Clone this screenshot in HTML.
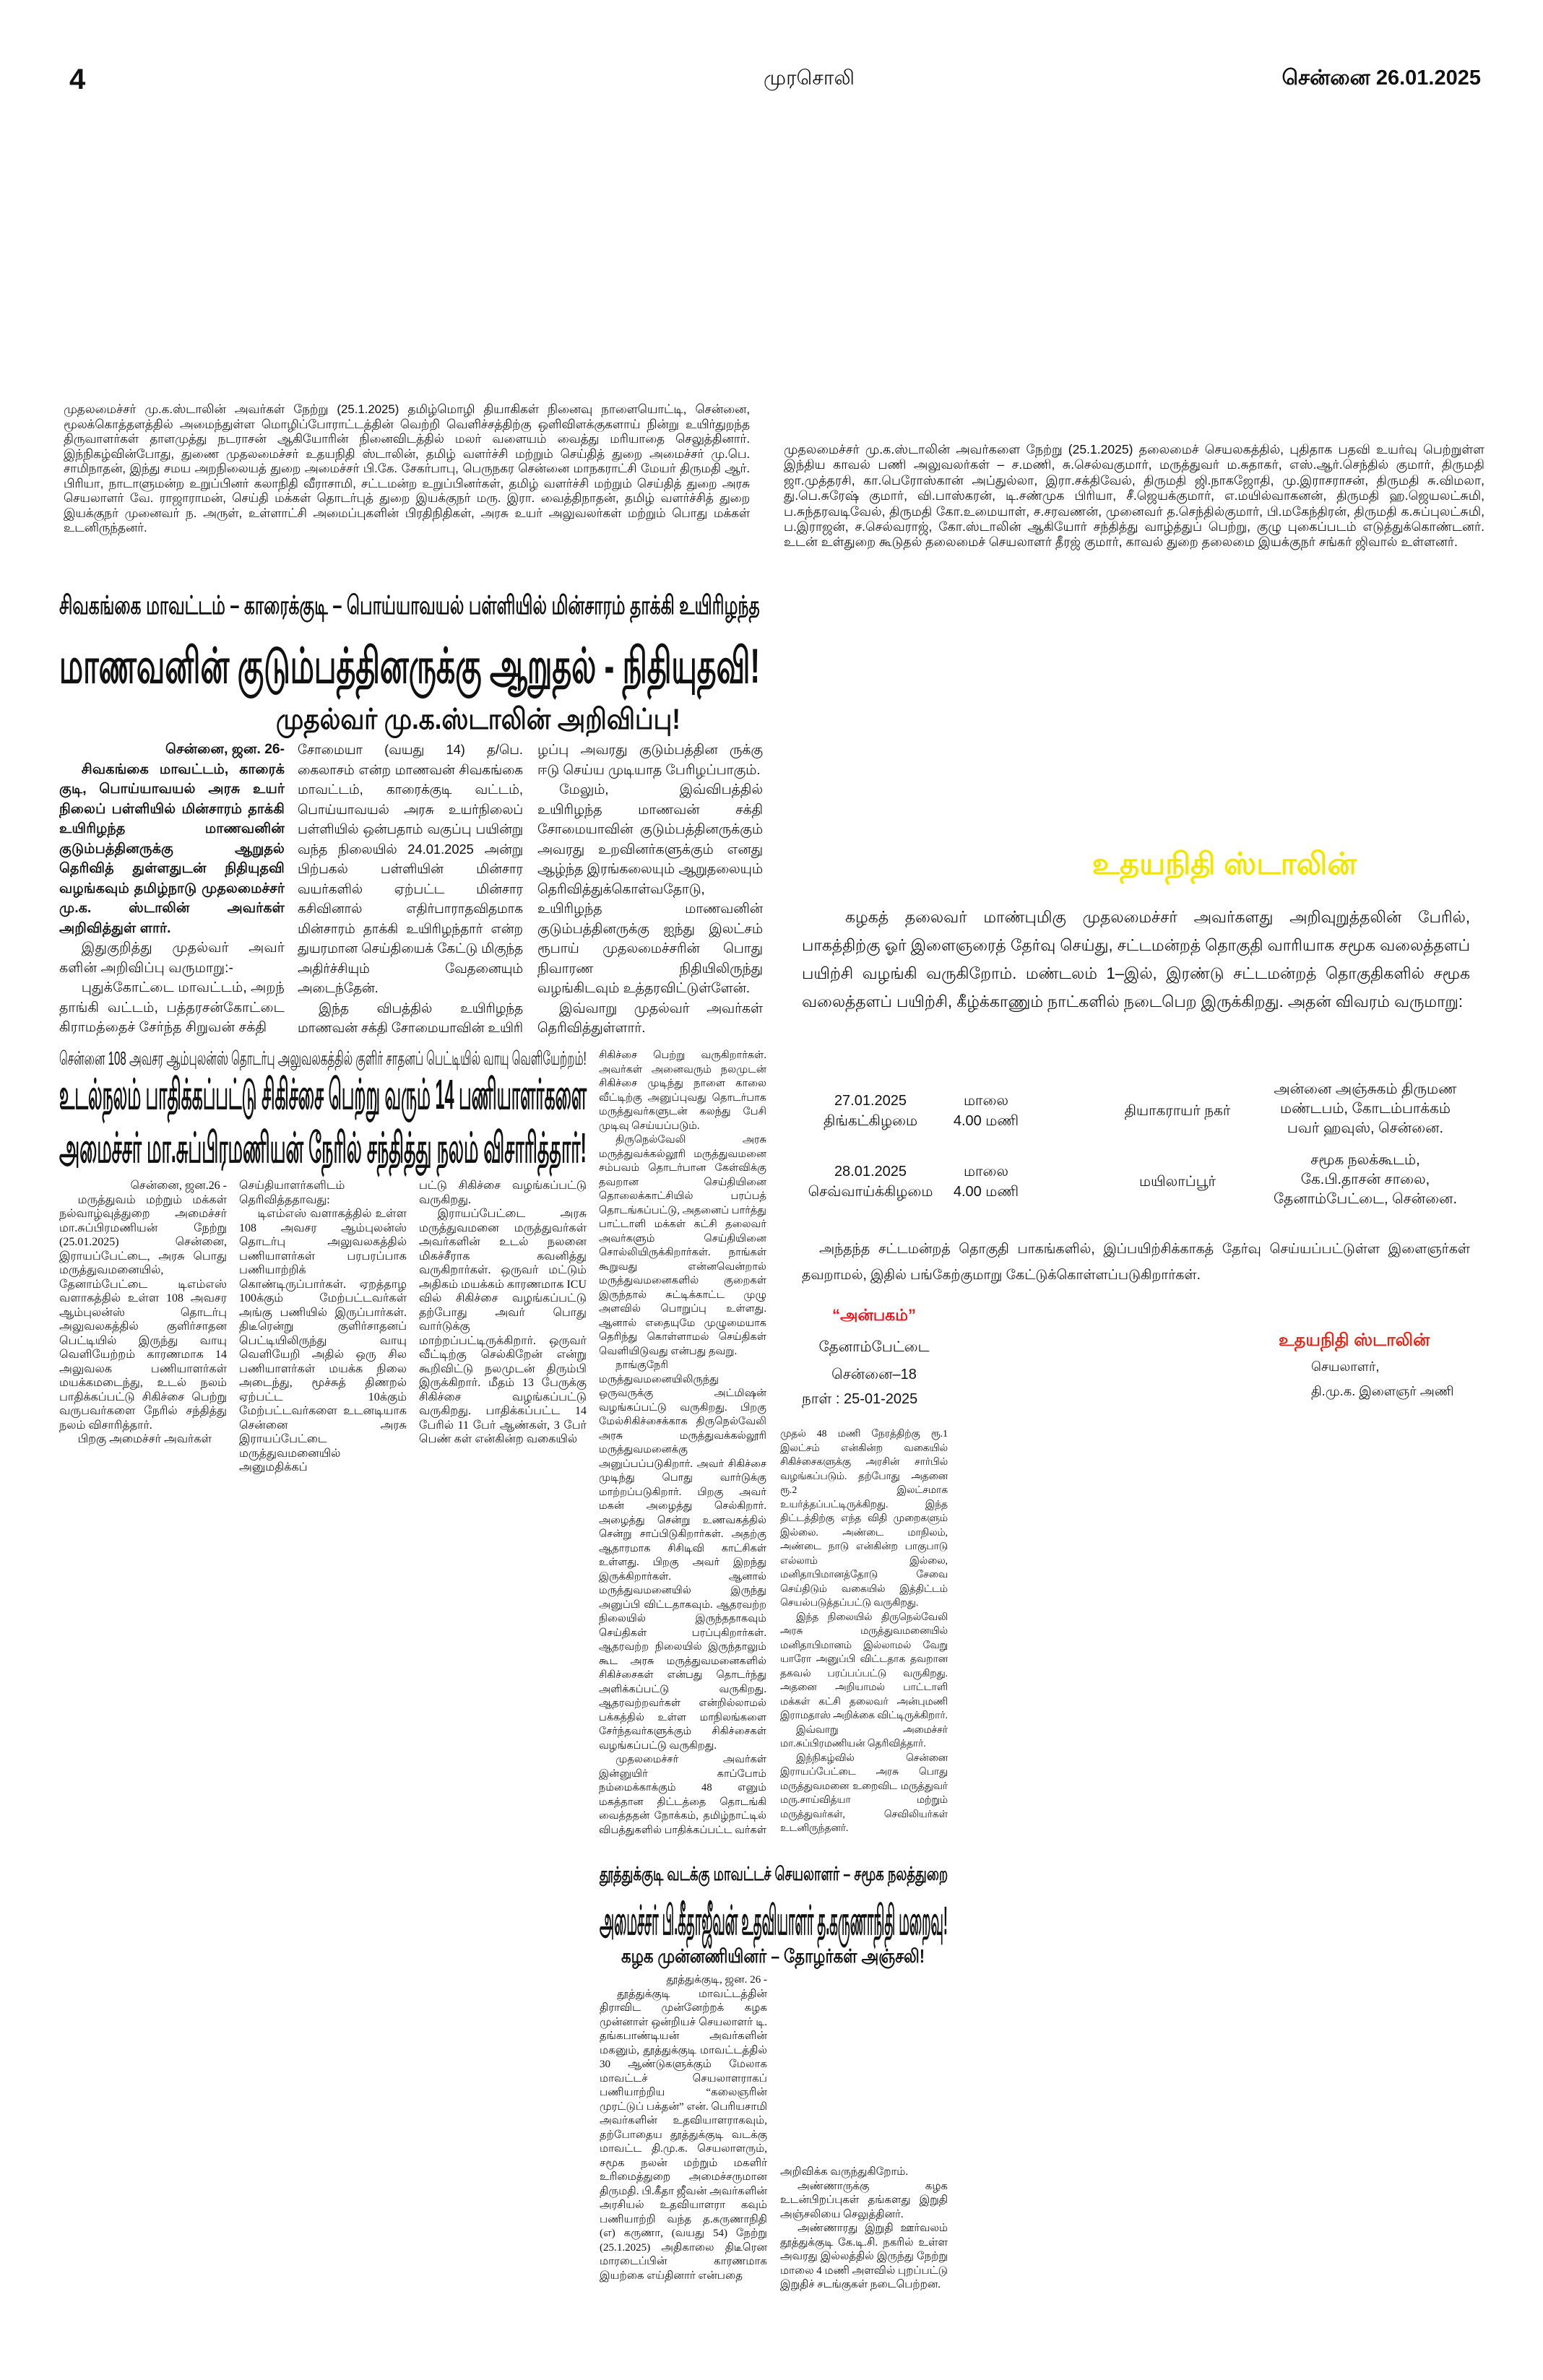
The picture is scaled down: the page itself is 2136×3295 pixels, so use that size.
<!DOCTYPE html>
<html><head><meta charset="utf-8">
<style>
html,body{margin:0;padding:0;background:#fff;}
body{width:2136px;height:3295px;position:relative;overflow:hidden;font-family:"Liberation Sans","DejaVu Sans",sans-serif;color:#111;}
.a{position:absolute;}
.col{position:absolute;text-align:justify;}
.c1{line-height:19.5px;font-family:"Liberation Serif","DejaVu Serif",serif;}
.c1 p,.c2 p{margin:0;text-indent:1.6em;}
.c2{line-height:27.5px;}
.hl{white-space:nowrap;font-weight:bold;overflow:visible;}
.hl span{display:inline-block;transform-origin:0 0;}
.ctr{text-align:center;}
</style></head><body>

<!-- header -->
<div class="a" style="left:96px;top:88px;font-size:40px;font-weight:bold;">4</div>
<div class="a" style="left:1020px;top:92px;width:200px;font-size:28px;text-align:center;">முரசொலி</div>
<div class="a" style="left:1640px;top:92px;width:410px;font-size:29px;font-weight:bold;text-align:right;">சென்னை 26.01.2025</div>

<!-- top-left caption -->
<div class="col fith" data-h="232" style="left:88px;top:557px;width:950px;line-height:20.5px;">முதலமைச்சர் மு.க.ஸ்டாலின் அவர்கள் நேற்று (25.1.2025) தமிழ்மொழி தியாகிகள் நினைவு நாளையொட்டி, சென்னை, மூலக்கொத்தளத்தில் அமைந்துள்ள மொழிப்போராட்டத்தின் வெற்றி வெளிச்சத்திற்கு ஒளிவிளக்குகளாய் நின்று உயிர்துறந்த திருவாளர்கள் தாளமுத்து நடராசன் ஆகியோரின் நினைவிடத்தில் மலர் வளையம் வைத்து மரியாதை செலுத்தினார். இந்நிகழ்வின்போது, துணை முதலமைச்சர் உதயநிதி ஸ்டாலின், தமிழ் வளர்ச்சி மற்றும் செய்தித் துறை அமைச்சர் மு.பெ. சாமிநாதன், இந்து சமய அறநிலையத் துறை அமைச்சர் பி.கே. சேகர்பாபு, பெருநகர சென்னை மாநகராட்சி மேயர் திருமதி ஆர். பிரியா, நாடாளுமன்ற உறுப்பினர் கலாநிதி வீராசாமி, சட்டமன்ற உறுப்பினர்கள், தமிழ் வளர்ச்சி மற்றும் செய்தித் துறை அரசு செயலாளர் வே. ராஜாராமன், செய்தி மக்கள் தொடர்புத் துறை இயக்குநர் மரு. இரா. வைத்திநாதன், தமிழ் வளர்ச்சித் துறை இயக்குநர் முனைவர் ந. அருள், உள்ளாட்சி அமைப்புகளின் பிரதிநிதிகள், அரசு உயர் அலுவலர்கள் மற்றும் பொது மக்கள் உடனிருந்தனர்.</div>

<!-- top-right caption -->
<div class="col fith" data-h="176" style="left:1085px;top:612px;width:970px;line-height:21.4px;">முதலமைச்சர் மு.க.ஸ்டாலின் அவர்களை நேற்று (25.1.2025) தலைமைச் செயலகத்தில், புதிதாக பதவி உயர்வு பெற்றுள்ள இந்திய காவல் பணி அலுவலர்கள் – ச.மணி, சு.செல்வகுமார், மருத்துவர் ம.சுதாகர், எஸ்.ஆர்.செந்தில் குமார், திருமதி ஜா.முத்தரசி, கா.பெரோஸ்கான் அப்துல்லா, இரா.சக்திவேல், திருமதி ஜி.நாகஜோதி, மு.இராசராசன், திருமதி சு.விமலா, து.பெ.சுரேஷ் குமார், வி.பாஸ்கரன், டி.சண்முக பிரியா, சீ.ஜெயக்குமார், எ.மயில்வாகனன், திருமதி ஹ.ஜெயலட்சுமி, ப.சுந்தரவடிவேல், திருமதி கோ.உமையாள், ச.சரவணன், முனைவர் த.செந்தில்குமார், பி.மகேந்திரன், திருமதி க.சுப்புலட்சுமி, ப.இராஜன், ச.செல்வராஜ், கோ.ஸ்டாலின் ஆகியோர் சந்தித்து வாழ்த்துப் பெற்று, குழு புகைப்படம் எடுத்துக்கொண்டனர். உடன் உள்துறை கூடுதல் தலைமைச் செயலாளர் தீரஜ் குமார், காவல் துறை தலைமை இயக்குநர் சங்கர் ஜிவால் உள்ளனர்.</div>

<!-- headlines article 1 -->
<div class="a hl fitw" data-w="970" style="left:82px;top:818px;font-size:36px;line-height:40px;"><span>சிவகங்கை மாவட்டம் – காரைக்குடி – பொய்யாவயல் பள்ளியில் மின்சாரம் தாக்கி உயிரிழந்த</span></div>
<div class="a hl fitw" data-w="970" style="left:82px;top:884px;font-size:68px;line-height:76px;font-weight:900;"><span>மாணவனின் குடும்பத்தினருக்கு ஆறுதல் - நிதியுதவி!</span></div>
<div class="a hl fitw" data-w="560" style="left:382px;top:974px;font-size:40px;line-height:44px;"><span>முதல்வர் மு.க.ஸ்டாலின் அறிவிப்பு!</span></div>

<div class="col c2 fith" data-h="412" style="left:82px;top:1024px;width:312px;"><div style="text-align:right;font-weight:bold;">சென்னை, ஜன. 26-</div><p style="font-weight:bold;">சிவகங்கை மாவட்டம், காரைக் குடி, பொய்யாவயல் அரசு உயர் நிலைப் பள்ளியில் மின்சாரம் தாக்கி உயிரிழந்த மாணவனின் குடும்பத்தினருக்கு ஆறுதல் தெரிவித் துள்ளதுடன் நிதியுதவி வழங்கவும் தமிழ்நாடு முதலமைச்சர் மு.க. ஸ்டாலின் அவர்கள் அறிவித்துள் ளார்.</p><p>இதுகுறித்து முதல்வர் அவர் களின் அறிவிப்பு வருமாறு:-</p><p>புதுக்கோட்டை மாவட்டம், அறந் தாங்கி வட்டம், பத்தரசன்கோட்டை கிராமத்தைச் சேர்ந்த சிறுவன் சக்தி</p></div>
<div class="col c2 fith" data-h="412" style="left:412px;top:1024px;width:312px;">சோமையா (வயது 14) த/பெ. கைலாசம் என்ற மாணவன் சிவகங்கை மாவட்டம், காரைக்குடி வட்டம், பொய்யாவயல் அரசு உயர்நிலைப் பள்ளியில் ஒன்பதாம் வகுப்பு பயின்று வந்த நிலையில் 24.01.2025 அன்று பிற்பகல் பள்ளியின் மின்சார வயர்களில் ஏற்பட்ட மின்சார கசிவினால் எதிர்பாராதவிதமாக மின்சாரம் தாக்கி உயிரிழந்தார் என்ற துயரமான செய்தியைக் கேட்டு மிகுந்த அதிர்ச்சியும் வேதனையும் அடைந்தேன்.<p>இந்த விபத்தில் உயிரிழந்த மாணவன் சக்தி சோமையாவின் உயிரி</p></div>
<div class="col c2 fith" data-h="412" style="left:744px;top:1024px;width:312px;">ழப்பு அவரது குடும்பத்தின ருக்கு ஈடு செய்ய முடியாத பேரிழப்பாகும்.<p>மேலும், இவ்விபத்தில் உயிரிழந்த மாணவன் சக்தி சோமையாவின் குடும்பத்தினருக்கும் அவரது உறவினர்களுக்கும் எனது ஆழ்ந்த இரங்கலையும் ஆறுதலையும் தெரிவித்துக்கொள்வதோடு, உயிரிழந்த மாணவனின் குடும்பத்தினருக்கு ஐந்து இலட்சம் ரூபாய் முதலமைச்சரின் பொது நிவாரண நிதியிலிருந்து வழங்கிடவும் உத்தரவிட்டுள்ளேன்.</p><p>இவ்வாறு முதல்வர் அவர்கள் தெரிவித்துள்ளார்.</p></div>

<!-- ambulance article -->
<div class="a hl fitw" data-w="730" style="left:82px;top:1450px;font-size:26px;line-height:30px;font-weight:normal;"><span>சென்னை 108 அவசர ஆம்புலன்ஸ் தொடர்பு அலுவலகத்தில் குளிர் சாதனப் பெட்டியில் வாயு வெளியேற்றம்!</span></div>
<div class="a hl fitw" data-w="730" style="left:82px;top:1484px;font-size:58px;line-height:64px;font-weight:900;"><span>உடல்நலம் பாதிக்கப்பட்டு சிகிச்சை பெற்று வரும் 14 பணியாளர்களை</span></div>
<div class="a hl fitw" data-w="730" style="left:82px;top:1558px;font-size:58px;line-height:64px;font-weight:900;"><span>அமைச்சர் மா.சுப்பிரமணியன் நேரில் சந்தித்து நலம் விசாரித்தார்!</span></div>

<div class="col c1 fith" data-h="570" style="left:82px;top:1632px;width:232px;"><div style="text-align:right;">சென்னை, ஜன.26 -</div><p>மருத்துவம் மற்றும் மக்கள் நல்வாழ்வுத்துறை அமைச்சர் மா.சுப்பிரமணியன் நேற்று (25.01.2025) சென்னை, இராயப்பேட்டை, அரசு பொது மருத்துவமனையில், தேனாம்பேட்டை டிஎம்எஸ் வளாகத்தில் உள்ள 108 அவசர ஆம்புலன்ஸ் தொடர்பு அலுவலகத்தில் குளிர்சாதன பெட்டியில் இருந்து வாயு வெளியேற்றம் காரணமாக 14 அலுவலக பணியாளர்கள் மயக்கமடைந்து, உடல் நலம் பாதிக்கப்பட்டு சிகிச்சை பெற்று வருபவர்களை நேரில் சந்தித்து நலம் விசாரித்தார்.</p><p>பிறகு அமைச்சர் அவர்கள்</p></div>
<div class="col c1 fith" data-h="570" style="left:331px;top:1632px;width:232px;">செய்தியாளர்களிடம் தெரிவித்ததாவது:<p>டிஎம்எஸ் வளாகத்தில் உள்ள 108 அவசர ஆம்புலன்ஸ் தொடர்பு அலுவலகத்தில் பணியாளர்கள் பரபரப்பாக பணியாற்றிக் கொண்டிருப்பார்கள். ஏறத்தாழ 100க்கும் மேற்பட்டவர்கள் அங்கு பணியில் இருப்பார்கள். திடீரென்று குளிர்சாதனப் பெட்டியிலிருந்து வாயு வெளியேறி அதில் ஒரு சில பணியாளர்கள் மயக்க நிலை அடைந்து, மூச்சுத் திணறல் ஏற்பட்ட 10க்கும் மேற்பட்டவர்களை உடனடியாக சென்னை அரசு இராயப்பேட்டை மருத்துவமனையில் அனுமதிக்கப்</p></div>
<div class="col c1 fith" data-h="570" style="left:580px;top:1632px;width:232px;">பட்டு சிகிச்சை வழங்கப்பட்டு வருகிறது.<p>இராயப்பேட்டை அரசு மருத்துவமனை மருத்துவர்கள் அவர்களின் உடல் நலனை மிகச்சீராக கவனித்து வருகிறார்கள். ஒருவர் மட்டும் அதிகம் மயக்கம் காரணமாக ICU வில் சிகிச்சை வழங்கப்பட்டு தற்போது அவர் பொது வார்டுக்கு மாற்றப்பட்டிருக்கிறார். ஒருவர் வீட்டிற்கு செல்கிறேன் என்று கூறிவிட்டு நலமுடன் திரும்பி இருக்கிறார். மீதம் 13 பேருக்கு சிகிச்சை வழங்கப்பட்டு வருகிறது. பாதிக்கப்பட்ட 14 பேரில் 11 பேர் ஆண்கள், 3 பேர் பெண் கள் என்கின்ற வகையில்</p></div>
<div class="col c1 fith" data-h="1095" style="left:829px;top:1452px;width:232px;">சிகிச்சை பெற்று வருகிறார்கள். அவர்கள் அனைவரும் நலமுடன் சிகிச்சை முடிந்து நாளை காலை வீட்டிற்கு அனுப்புவது தொடர்பாக மருத்துவர்களுடன் கலந்து பேசி முடிவு செய்யப்படும்.<p>திருநெல்வேலி அரசு மருத்துவக்கல்லூரி மருத்துவமனை சம்பவம் தொடர்பான கேள்விக்கு தவறான செய்தியினை தொலைக்காட்சியில் பரப்பத் தொடங்கப்பட்டு, அதனைப் பார்த்து பாட்டாளி மக்கள் கட்சி தலைவர் அவர்களும் செய்தியினை சொல்லியிருக்கிறார்கள். நாங்கள் கூறுவது என்னவென்றால் மருத்துவமனைகளில் குறைகள் இருந்தால் சுட்டிக்காட்ட முழு அளவில் பொறுப்பு உள்ளது. ஆனால் எதையுமே முழுமையாக தெரிந்து கொள்ளாமல் செய்திகள் வெளியிடுவது என்பது தவறு.</p><p>நாங்குநேரி மருத்துவமனையிலிருந்து ஒருவருக்கு அட்மிஷன் வழங்கப்பட்டு வருகிறது. பிறகு மேல்சிகிச்சைக்காக திருநெல்வேலி அரசு மருத்துவக்கல்லூரி மருத்துவமனைக்கு அனுப்பப்படுகிறார். அவர் சிகிச்சை முடிந்து பொது வார்டுக்கு மாற்றப்படுகிறார். பிறகு அவர் மகன் அழைத்து செல்கிறார். அழைத்து சென்று உணவகத்தில் சென்று சாப்பிடுகிறார்கள். அதற்கு ஆதாரமாக சிசிடிவி காட்சிகள் உள்ளது. பிறகு அவர் இறந்து இருக்கிறார்கள். ஆனால் மருத்துவமனையில் இருந்து அனுப்பி விட்டதாகவும். ஆதரவற்ற நிலையில் இருந்ததாகவும் செய்திகள் பரப்புகிறார்கள். ஆதரவற்ற நிலையில் இருந்தாலும் கூட அரசு மருத்துவமனைகளில் சிகிச்சைகள் என்பது தொடர்ந்து அளிக்கப்பட்டு வருகிறது. ஆதரவற்றவர்கள் என்றில்லாமல் பக்கத்தில் உள்ள மாநிலங்களை சேர்ந்தவர்களுக்கும் சிகிச்சைகள் வழங்கப்பட்டு வருகிறது.</p><p>முதலமைச்சர் அவர்கள் இன்னுயிர் காப்போம் நம்மைக்காக்கும் 48 எனும் மகத்தான திட்டத்தை தொடங்கி வைத்ததன் நோக்கம், தமிழ்நாட்டில் விபத்துகளில் பாதிக்கப்பட்ட வர்கள்</p></div>

<!-- right: notice -->
<div class="a" style="left:1480px;top:1172px;width:430px;text-align:center;font-size:42px;font-weight:bold;color:#f2e600;white-space:nowrap;overflow:hidden;">உதயநிதி ஸ்டாலின்</div>
<div class="col fith" data-h="156" style="left:1110px;top:1250px;width:925px;line-height:39px;"><span style="padding-left:60px"></span>கழகத் தலைவர் மாண்புமிகு முதலமைச்சர் அவர்களது அறிவுறுத்தலின் பேரில், பாகத்திற்கு ஓர் இளைஞரைத் தேர்வு செய்து, சட்டமன்றத் தொகுதி வாரியாக சமூக வலைத்தளப் பயிற்சி வழங்கி வருகிறோம். மண்டலம் 1–இல், இரண்டு சட்டமன்றத் தொகுதிகளில் சமூக வலைத்தளப் பயிற்சி, கீழ்க்காணும் நாட்களில் நடைபெற இருக்கிறது. அதன் விவரம் வருமாறு:</div>

<div class="a ctr" style="left:1100px;top:1510px;width:210px;font-size:20px;line-height:28px;">27.01.2025<br>திங்கட்கிழமை</div>
<div class="a ctr" style="left:1300px;top:1510px;width:130px;font-size:20px;line-height:28px;">மாலை<br>4.00 மணி</div>
<div class="a ctr" style="left:1520px;top:1524px;width:220px;font-size:20px;line-height:28px;">தியாகராயர் நகர்</div>
<div class="a ctr" style="left:1760px;top:1495px;width:260px;font-size:20px;line-height:27px;">அன்னை அஞ்சுகம் திருமண மண்டபம், கோடம்பாக்கம் பவர் ஹவுஸ், சென்னை.</div>

<div class="a ctr" style="left:1100px;top:1608px;width:210px;font-size:20px;line-height:28px;">28.01.2025<br>செவ்வாய்க்கிழமை</div>
<div class="a ctr" style="left:1300px;top:1608px;width:130px;font-size:20px;line-height:28px;">மாலை<br>4.00 மணி</div>
<div class="a ctr" style="left:1520px;top:1622px;width:220px;font-size:20px;line-height:28px;">மயிலாப்பூர்</div>
<div class="a ctr" style="left:1760px;top:1593px;width:260px;font-size:20px;line-height:27px;">சமூக நலக்கூடம்,<br>கே.பி.தாசன் சாலை,<br>தேனாம்பேட்டை, சென்னை.</div>

<div class="col" style="left:1110px;top:1712px;width:925px;height:76px;font-size:19px;line-height:36px;overflow:hidden;"><span style="padding-left:24px"></span>அந்தந்த சட்டமன்றத் தொகுதி பாகங்களில், இப்பயிற்சிக்காகத் தேர்வு செய்யப்பட்டுள்ள இளைஞர்கள் தவறாமல், இதில் பங்கேற்குமாறு கேட்டுக்கொள்ளப்படுகிறார்கள்.</div>

<div class="a ctr" style="left:1130px;top:1808px;width:160px;font-size:22px;font-weight:bold;color:#e8141c;white-space:nowrap;">“அன்பகம்”</div>
<div class="a ctr" style="left:1100px;top:1846px;width:220px;font-size:20px;line-height:38px;">தேனாம்பேட்டை<br>சென்னை–18</div>
<div class="a" style="left:1110px;top:1926px;width:240px;font-size:20px;white-space:nowrap;">நாள் : 25-01-2025</div>

<div class="a" style="left:1770px;top:1842px;width:260px;font-size:24px;font-weight:bold;color:#e0281a;white-space:nowrap;">உதயநிதி ஸ்டாலின்</div>
<div class="a" style="left:1815px;top:1882px;font-size:18px;white-space:nowrap;">செயலாளர்,</div>
<div class="a" style="left:1815px;top:1916px;font-size:18px;white-space:nowrap;">தி.மு.க. இளைஞர் அணி</div>

<div class="col c1 fith" data-h="570" style="left:1080px;top:1975px;width:232px;">முதல் 48 மணி நேரத்திற்கு ரூ.1 இலட்சம் என்கின்ற வகையில் சிகிச்சைகளுக்கு அரசின் சார்பில் வழங்கப்படும். தற்போது அதனை ரூ.2 இலட்சமாக உயர்த்தப்பட்டிருக்கிறது. இந்த திட்டத்திற்கு எந்த விதி முறைகளும் இல்லை. அண்டை மாநிலம், அண்டை நாடு என்கின்ற பாகுபாடு எல்லாம் இல்லை, மனிதாபிமானத்தோடு சேவை செய்திடும் வகையில் இத்திட்டம் செயல்படுத்தப்பட்டு வருகிறது.<p>இந்த நிலையில் திருநெல்வேலி அரசு மருத்துவமனையில் மனிதாபிமானம் இல்லாமல் வேறு யாரோ அனுப்பி விட்டதாக தவறான தகவல் பரப்பப்பட்டு வருகிறது. அதனை அறியாமல் பாட்டாளி மக்கள் கட்சி தலைவர் அன்புமணி இராமதாஸ் அறிக்கை விட்டிருக்கிறார்.</p><p>இவ்வாறு அமைச்சர் மா.சுப்பிரமணியன் தெரிவித்தார்.</p><p>இந்நிகழ்வில் சென்னை இராயப்பேட்டை அரசு பொது மருத்துவமனை உறைவிட மருத்துவர் மரு.சாய்வித்யா மற்றும் மருத்துவர்கள், செவிலியர்கள் உடனிருந்தனர்.</p></div>

<!-- Thoothukudi article -->
<div class="a hl fitw" data-w="482" style="left:830px;top:2578px;font-size:26px;line-height:32px;"><span>தூத்துக்குடி வடக்கு மாவட்டச் செயலாளர் – சமூக நலத்துறை</span></div>
<div class="a hl fitw" data-w="482" style="left:830px;top:2628px;font-size:56px;line-height:62px;font-weight:900;"><span>அமைச்சர் பி.கீதாஜீவன் உதவியாளர் த.கருணாநிதி மறைவு!</span></div>
<div class="a hl fitw" data-w="420" style="left:860px;top:2692px;font-size:26px;line-height:32px;"><span>கழக முன்னணியினர் – தோழர்கள் அஞ்சலி!</span></div>

<div class="col c1 fith" data-h="440" style="left:830px;top:2732px;width:232px;"><div style="text-align:right;">தூத்துக்குடி, ஜன. 26 -</div><p>தூத்துக்குடி மாவட்டத்தின் திராவிட முன்னேற்றக் கழக முன்னாள் ஒன்றியச் செயலாளர் டி. தங்கபாண்டியன் அவர்களின் மகனும், தூத்துக்குடி மாவட்டத்தில் 30 ஆண்டுகளுக்கும் மேலாக மாவட்டச் செயலாளராகப் பணியாற்றிய “கலைஞரின் முரட்டுப் பக்தன்” என். பெரியசாமி அவர்களின் உதவியாளராகவும், தற்போதைய தூத்துக்குடி வடக்கு மாவட்ட தி.மு.க. செயலாளரும், சமூக நலன் மற்றும் மகளிர் உரிமைத்துறை அமைச்சருமான திருமதி. பி.கீதா ஜீவன் அவர்களின் அரசியல் உதவியாளரா கவும் பணியாற்றி வந்த த.கருணாநிதி (எ) கருணா, (வயது 54) நேற்று (25.1.2025) அதிகாலை திடீரென மாரடைப்பின் காரணமாக இயற்கை எய்தினார் என்பதை</p></div>
<div class="col c1 fith" data-h="175" style="left:1080px;top:2998px;width:232px;">அறிவிக்க வருந்துகிறோம்.<p>அண்ணாருக்கு கழக உடன்பிறப்புகள் தங்களது இறுதி அஞ்சலியை செலுத்தினர்.</p><p>அண்ணாரது இறுதி ஊர்வலம் தூத்துக்குடி கே.டி.சி. நகரில் உள்ள அவரது இல்லத்தில் இருந்து நேற்று மாலை 4 மணி அளவில் புறப்பட்டு இறுதிச் சடங்குகள் நடைபெற்றன.</p></div>

<script>
(function(){
  document.querySelectorAll('.fitw').forEach(function(el){
    var s=el.querySelector('span');var w=s.offsetWidth;var t=+el.getAttribute('data-w');
    if(w>0){s.style.transform='scaleX('+(t/w)+')';}
  });
  document.querySelectorAll('.fith').forEach(function(el){
    var H=+el.getAttribute('data-h');
    var lh=parseFloat(getComputedStyle(el).lineHeight)||20;
    var lo=6,hi=lh*0.82;
    el.style.fontSize=hi+'px';
    if(el.offsetHeight>H+2){
      for(var i=0;i<18;i++){var m=(lo+hi)/2;el.style.fontSize=m+'px';
        if(el.offsetHeight<=H+2)lo=m;else hi=m;}
      el.style.fontSize=lo+'px';
    }
    el.style.height=H+'px';el.style.overflow='hidden';
  });
})();
</script>
</body></html>
